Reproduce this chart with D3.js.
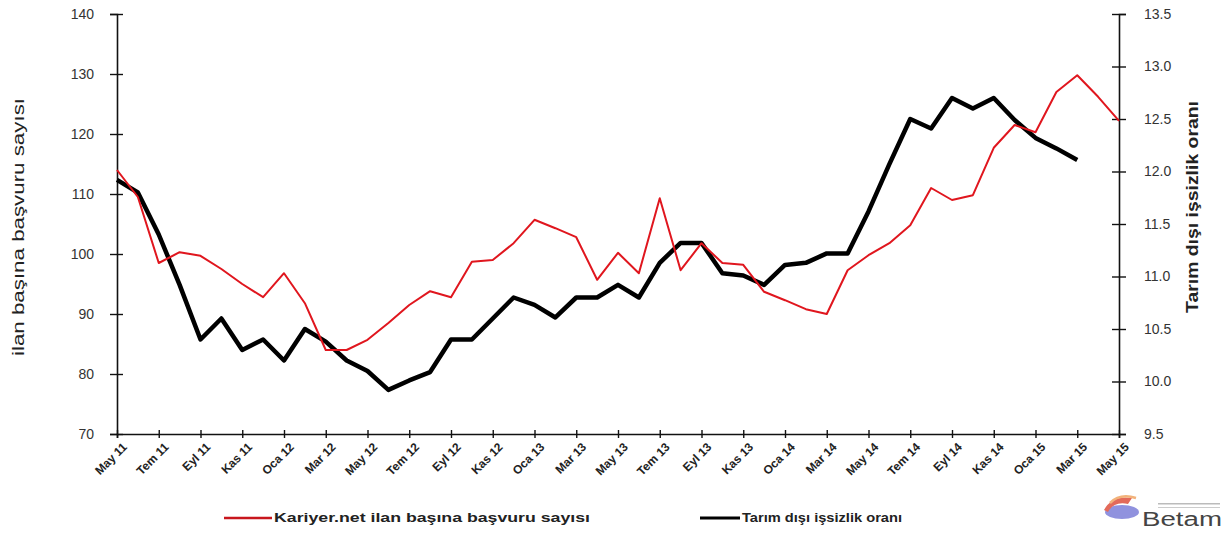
<!DOCTYPE html>
<html><head><meta charset="utf-8">
<script src="https://cdn.jsdelivr.net/npm/d3@7"></script>
<style>
body{margin:0;background:#fff;}
svg{display:block;font-family:"Liberation Sans",Arial,sans-serif;}
</style></head>
<body><svg id="c" width="1228" height="533"></svg>
<script>
const months = ["May 11","Haz 11","Tem 11","Ağu 11","Eyl 11","Eki 11","Kas 11","Ara 11","Oca 12","Şub 12","Mar 12","Nis 12","May 12","Haz 12","Tem 12","Ağu 12","Eyl 12","Eki 12","Kas 12","Ara 12","Oca 13","Şub 13","Mar 13","Nis 13","May 13","Haz 13","Tem 13","Ağu 13","Eyl 13","Eki 13","Kas 13","Ara 13","Oca 14","Şub 14","Mar 14","Nis 14","May 14","Haz 14","Tem 14","Ağu 14","Eyl 14","Eki 14","Kas 14","Ara 14","Oca 15","Şub 15","Mar 15","Nis 15","May 15"];
const basvuru = [114,109.5,98.5,100.3,99.7,97.5,95,92.8,96.8,91.8,84,84,85.7,88.5,91.5,93.8,92.8,98.7,99,101.8,105.7,104.3,102.8,95.7,100.2,96.8,109.3,97.3,101.8,98.5,98.2,93.7,92.3,90.8,90,97.3,99.8,101.8,104.8,111,109,109.8,117.7,121.5,120.3,127,129.8,126.2,122.2];
const issizlik = [11.92,11.8,11.4,10.92,10.4,10.6,10.3,10.4,10.2,10.5,10.38,10.2,10.1,9.92,10.01,10.09,10.4,10.4,10.6,10.8,10.73,10.61,10.8,10.8,10.92,10.8,11.13,11.32,11.32,11.03,11.01,10.92,11.11,11.13,11.22,11.22,11.62,12.07,12.5,12.41,12.7,12.6,12.7,12.49,12.32,12.22,12.11];
const xTickLabels = ["May 11","Tem 11","Eyl 11","Kas 11","Oca 12","Mar 12","May 12","Tem 12","Eyl 12","Kas 12","Oca 13","Mar 13","May 13","Tem 13","Eyl 13","Kas 13","Oca 14","Mar 14","May 14","Tem 14","Eyl 14","Kas 14","Oca 15","Mar 15","May 15"];
const leftTicks = [70,80,90,100,110,120,130,140];
const rightTicks = [9.5,10.0,10.5,11.0,11.5,12.0,12.5,13.0,13.5];
const seriesNames = ["Kariyer.net ilan başına başvuru sayısı","Tarım dışı işsizlik oranı"];
const leftTitle = "ilan başına başvuru sayısı";
const rightTitle = "Tarım dışı işsizlik oranı";

const svg = d3.select("#c");
const x0 = 117, x1 = 1119, yTop = 14, yBot = 434;
const x = d3.scalePoint().domain(months).range([x0, x1]);
const yL = d3.scaleLinear().domain([70,140]).range([yBot, yTop]);
const yR = d3.scaleLinear().domain([9.5,13.5]).range([yBot, yTop]);

// left axis
const gL = svg.append("g").attr("transform",`translate(${x0},0)`)
  .call(d3.axisLeft(yL).tickValues(leftTicks).tickSize(7).tickPadding(16).tickFormat(d3.format("d")));
gL.selectAll(".tick line").attr("x1",6);
// right axis
const gR = svg.append("g").attr("transform",`translate(${x1},0)`)
  .call(d3.axisRight(yR).tickValues(rightTicks).tickSize(7).tickPadding(18).tickFormat(d3.format(".1f")));
gR.selectAll(".tick line").attr("x1",-7);
// bottom axis
const gB = svg.append("g").attr("transform",`translate(0,${yBot})`)
  .call(d3.axisBottom(x).tickValues(xTickLabels).tickSize(4).tickPadding(4));
gB.selectAll(".tick line").attr("y1",-4);
[gL,gR,gB].forEach(g=>{
  g.select(".domain").attr("stroke","#111").attr("stroke-width",1.6);
  g.selectAll(".tick line").attr("stroke","#111").attr("stroke-width",1.4);
});
gL.selectAll("text").attr("font-size",14).attr("fill","#333");
gR.selectAll("text").attr("font-size",14).attr("fill","#333");
gB.selectAll("text").attr("font-size",12).attr("font-weight","bold").attr("fill","#222")
  .attr("text-anchor","end").attr("dx","-0.2em").attr("dy","0.75em")
  .attr("transform","rotate(-45)");

// titles
svg.append("text").attr("transform","translate(24,227) rotate(-90)").attr("text-anchor","middle")
  .attr("font-size",16).attr("fill","#222").attr("textLength",258).attr("lengthAdjust","spacingAndGlyphs").text(leftTitle);
svg.append("text").attr("transform","translate(1198,207) rotate(-90)").attr("text-anchor","middle")
  .attr("font-size",16).attr("font-weight","bold").attr("fill","#222").attr("textLength",212).attr("lengthAdjust","spacingAndGlyphs").text(rightTitle);

// lines
const lineL = d3.line().x((d,i)=>x(months[i])).y(d=>yL(d));
const lineR = d3.line().x((d,i)=>x(months[i])).y(d=>yR(d));
svg.append("path").datum(issizlik).attr("d",lineR).attr("fill","none")
  .attr("stroke","#000").attr("stroke-width",4.5).attr("stroke-linejoin","round");
svg.append("path").datum(basvuru).attr("d",lineL).attr("fill","none")
  .attr("stroke","#e0161e").attr("stroke-width",2).attr("stroke-linejoin","round");

// legend
const leg = [{c:"#c8161d",w:2.5,x:224,len:48,tx:274,tl:316,t:seriesNames[0]},{c:"#000",w:3,x:700,len:40,tx:742,tl:160,t:seriesNames[1]}];
leg.forEach(l=>{
  svg.append("line").attr("x1",l.x).attr("x2",l.x+l.len).attr("y1",518).attr("y2",518)
    .attr("stroke",l.c).attr("stroke-width",l.w);
  svg.append("text").attr("x",l.tx).attr("y",522).attr("font-size",13).attr("font-weight","bold")
    .attr("fill","#222").attr("textLength",l.tl).attr("lengthAdjust","spacingAndGlyphs").text(l.t);
});

// Betam logo
const lg = svg.append("g");
lg.append("ellipse").attr("cx",1122).attr("cy",512).attr("rx",17).attr("ry",7).attr("fill","#7d7fd8").attr("opacity",0.85);
lg.append("path").attr("d","M1104,510 Q1112,495 1132,498 L1128,504 Q1114,501 1108,512 Z").attr("fill","#e36a5a");
lg.append("path").attr("d","M1110,503 Q1120,493 1136,498").attr("fill","none").attr("stroke","#f2b27a").attr("stroke-width",2.5);
lg.append("text").attr("x",1142).attr("y",526).attr("font-size",20).attr("fill","#444")
  .attr("textLength",80).attr("lengthAdjust","spacingAndGlyphs").text("Betam");
lg.append("rect").attr("x",1158).attr("y",503).attr("width",62).attr("height",1.5).attr("fill","#bbb");
lg.append("rect").attr("x",1158).attr("y",507).attr("width",62).attr("height",1).attr("fill","#ccc");
</script></body></html>
